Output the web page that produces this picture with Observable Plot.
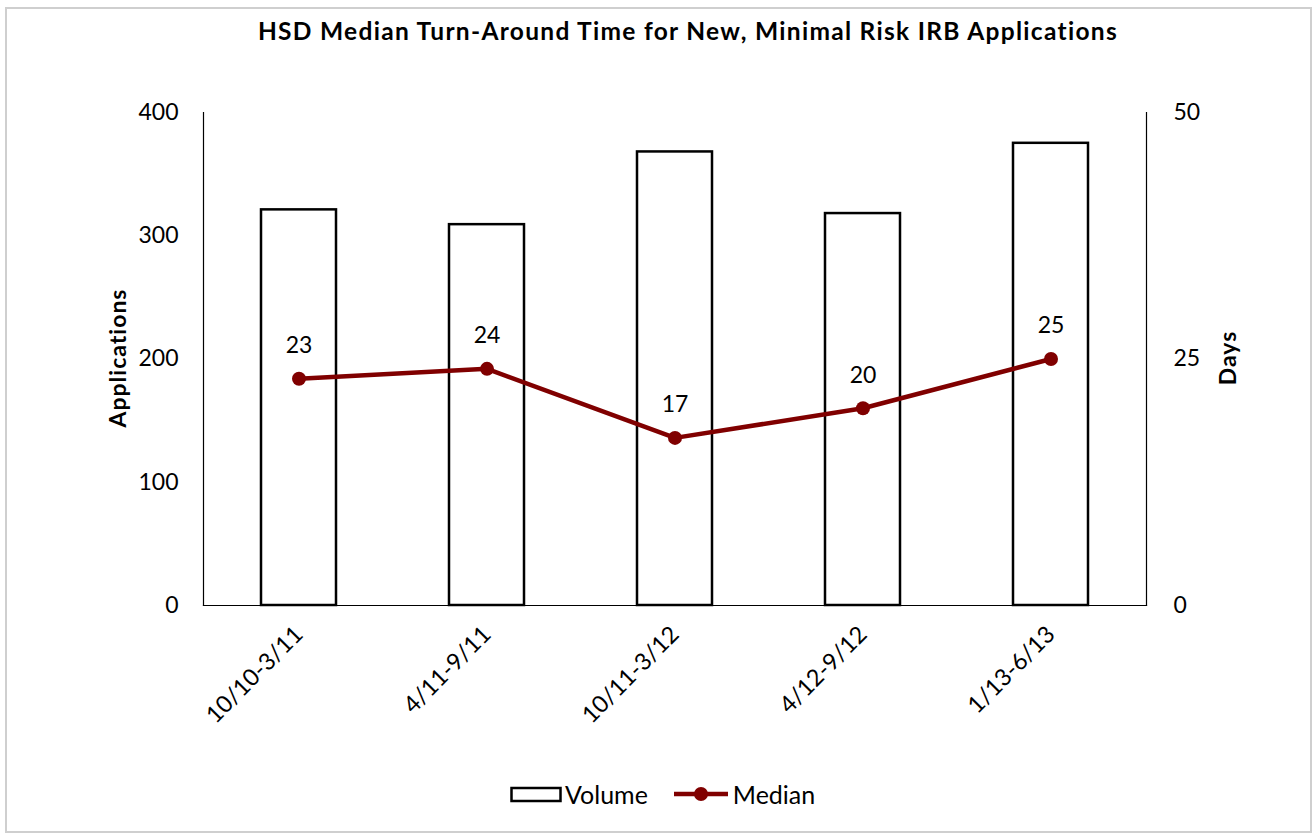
<!DOCTYPE html>
<html>
<head>
<meta charset="utf-8">
<script src="https://cdn.jsdelivr.net/npm/d3@7"></script>
<script src="https://cdn.jsdelivr.net/npm/@observablehq/plot@0.6"></script>
<style>
  body { margin: 0; background: #fff; font-family: Lato, "Open Sans", sans-serif; }
  #wrap { position: relative; width: 1315px; height: 836px; overflow: hidden; }
  #border { position: absolute; left: 5px; top: 7px; width: 1303px; height: 822px; border: 2px solid #cfcfcf; }
  #title { position: absolute; left: 0; width: 1376px; top: 16px; text-align: center; font-weight: bold; font-size: 24.5px; letter-spacing: 1.3px; color: #000; }
  #chart { position: absolute; left: 0; top: 0; }
  .ylab { position: absolute; font-weight: bold; font-size: 23px; letter-spacing: 1px; color: #000; transform: rotate(-90deg); transform-origin: center; white-space: nowrap; }
  #legend { position: absolute; top: 779px; left: 510px; display: flex; align-items: center; font-size: 25px; color: #000; }
</style>
</head>
<body>
<div id="wrap">
  <div id="border"></div>
  <div id="chart"></div>
  <div id="title">HSD Median Turn-Around Time for New, Minimal Risk IRB Applications</div>
  <div class="ylab" id="yl">Applications</div>
  <div class="ylab" id="yr">Days</div>
  <div id="legend">
    <svg width="52" height="18"><rect x="1.5" y="3" width="49" height="13" fill="#fff" stroke="#000" stroke-width="2.5"/></svg><span style="margin-left:3px">Volume</span>
    <svg width="58" height="18" style="margin-left:24px"><line x1="2" y1="9" x2="56" y2="9" stroke="#800000" stroke-width="4.5"/><circle cx="29" cy="9" r="7" fill="#800000"/></svg><span style="margin-left:3px">Median</span>
  </div>
</div>
<script>
const periods = ["10/10-3/11", "4/11-9/11", "10/11-3/12", "4/12-9/12", "1/13-6/13"];
const volume = [321, 309, 368, 318, 375];
const medianDays = [23, 24, 17, 20, 25];
const leftTicks = [0, 100, 200, 300, 400];
const rightTicks = [0, 25, 50];

const data = periods.map((p, i) => ({period: p, volume: volume[i], days: medianDays[i]}));
const daysToApps = 400 / 50;

const plot = Plot.plot({
  width: 1315,
  height: 760,
  marginTop: 112,
  marginBottom: 155,
  marginLeft: 203,
  marginRight: 169,
  style: {fontFamily: "Lato, 'Open Sans', sans-serif", fontSize: "23px", color: "#000", background: "transparent"},
  x: {domain: periods, paddingInner: 0.6, paddingOuter: 0.3, label: null},
  y: {domain: [0, 400], label: null},
  marks: [
    Plot.barY(data, {x: "period", y: "volume", fill: "#fff", stroke: "#000", strokeWidth: 2.5}),
    Plot.frame({anchor: "left", stroke: "#000", strokeWidth: 1.2}),
    Plot.frame({anchor: "right", stroke: "#000", strokeWidth: 1.2}),
    Plot.frame({anchor: "bottom", stroke: "#000", strokeWidth: 1.2}),
    Plot.axisY({ticks: leftTicks, tickSize: 0, tickPadding: 25, label: null, fontSize: 23}),
    Plot.axisY({anchor: "right", ticks: rightTicks.map(d => d * daysToApps), tickFormat: d => d / daysToApps, tickSize: 0, tickPadding: 27, label: null, fontSize: 23}),
    Plot.axisX({tickSize: 0, tickPadding: 25, tickRotate: -45, label: null, fontSize: 23.5}),
    Plot.line(data, {x: "period", y: d => d.days * daysToApps, stroke: "#800000", strokeWidth: 4.5}),
    Plot.dot(data, {x: "period", y: d => d.days * daysToApps, r: 7, fill: "#800000"}),
    Plot.text(data, {x: "period", y: d => d.days * daysToApps, text: "days", dy: -33, fontSize: 23, fill: "#000"})
  ]
});
document.getElementById("chart").appendChild(plot);

function placeLabel(id, cx, cy) {
  const el = document.getElementById(id);
  const w = el.offsetWidth, h = el.offsetHeight;
  el.style.left = (cx - w / 2) + "px";
  el.style.top = (cy - h / 2) + "px";
}
placeLabel("yl", 117, 358);
placeLabel("yr", 1227, 358);
</script>
</body>
</html>
